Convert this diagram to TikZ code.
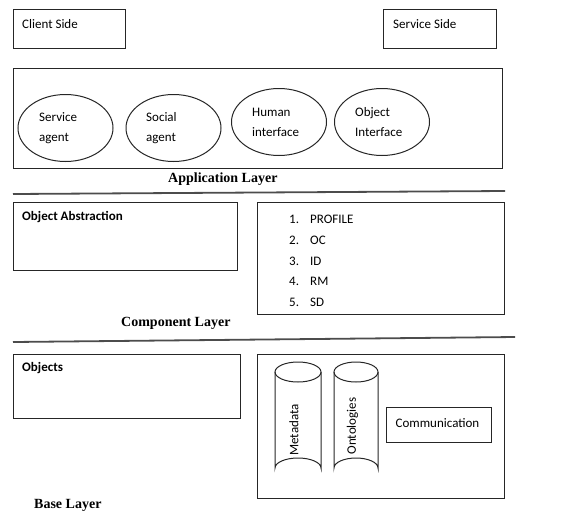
\documentclass[tikz,border=0pt]{standalone}
\usepackage{fontspec}
\setmainfont{Carlito}
\newfontfamily\layerfont{Liberation Serif}
\usetikzlibrary{shapes.geometric}
\begin{document}
\begin{tikzpicture}[x=1pt,y=-1pt,
  box/.style={draw=black!85,line width=1pt,rectangle,anchor=north west,inner sep=0pt},
  oval/.style={draw=black!85,line width=1pt,ellipse,inner sep=0pt,minimum width=95pt,minimum height=67pt},
  txt/.style={inner sep=0pt,anchor=west,font=\fontsize{13}{20}\selectfont,align=left},
  btxt/.style={txt,font=\fontsize{13}{20}\selectfont\bfseries},
  layer/.style={inner sep=0pt,anchor=west,font=\fontsize{14}{16}\selectfont\layerfont\bfseries},
  sep/.style={draw=black!70,line width=1.8pt},
  cyl/.style={draw=black!85,line width=1pt}]
\useasboundingbox (0,0) rectangle (588,517);
% top boxes
\node[box,minimum width=112pt,minimum height=39pt] (client) at (13,9) {};
\node[txt] (clientt) at (22,24) {Client Side};
\node[box,minimum width=113pt,minimum height=39pt] (service) at (383,9) {};
\node[txt] (servicet) at (393,24) {Service Side};
% application layer
\node[box,minimum width=489pt,minimum height=100pt] (app) at (13,68) {};
\node[oval] (e1) at (65.5,128) {};
\node[oval] (e2) at (173.5,128) {};
\node[oval] (e3) at (279,122) {};
\node[oval] (e4) at (382,122) {};
\node[txt] (e1t) at (39,128) {Service\\agent};
\node[txt] (e2t) at (146,128) {Social\\agent};
\node[txt] (e3t) at (252,122) {Human\\interface};
\node[txt] (e4t) at (355,122) {Object\\Interface};
\node[layer] (applab) at (168,179) {Application Layer};
\coordinate (s1a) at (13,194);
\coordinate (s1b) at (505,191);
\draw[sep] (s1a) -- (s1b);
% component layer
\node[box,minimum width=224pt,minimum height=68pt] (oabs) at (13,202) {};
\node[btxt] (oabst) at (22,217) {Object Abstraction};
\node[box,minimum width=247pt,minimum height=112pt] (list) at (257,202) {};
\node[inner sep=0pt,anchor=north west,font=\fontsize{13}{13}\selectfont] (listt) at (289,209) {%
  \def\arraystretch{1.59}%
  \begin{tabular}{@{}p{21pt}@{}l@{}}
  1. & PROFILE\\
  2. & OC\\
  3. & ID\\
  4. & RM\\
  5. & SD
  \end{tabular}};
\node[layer] (complab) at (121,323) {Component Layer};
\coordinate (s2a) at (13,342);
\coordinate (s2b) at (515,337);
\draw[sep] (s2a) -- (s2b);
% base layer
\node[box,minimum width=227pt,minimum height=64pt] (objs) at (13,354) {};
\node[btxt] (objst) at (22,368) {Objects};
\node[box,minimum width=247pt,minimum height=144pt] (base) at (257,354) {};
% cylinders
\draw[cyl] (275,372) -- (275,468) arc[start angle=180,end angle=360,x radius=23,y radius=10] -- (321,372);
\draw[cyl] (298,372) ellipse[x radius=23,y radius=10];
\draw[cyl] (334,372) -- (334,468) arc[start angle=180,end angle=360,x radius=22,y radius=10] -- (378,372);
\draw[cyl] (356,372) ellipse[x radius=22,y radius=10];
\node[inner sep=0pt,rotate=90,font=\fontsize{13}{16}\selectfont] (meta) at (294,430) {Metadata};
\node[inner sep=0pt,rotate=90,font=\fontsize{13}{16}\selectfont] (onto) at (352.5,426) {Ontologies};
\node[box,minimum width=105pt,minimum height=35pt] (comm) at (386,407) {};
\node[inner sep=0pt,font=\fontsize{13}{16}\selectfont] (commt) at (437.5,423) {Communication};
\node[layer] (baselab) at (34,505) {Base Layer};
\end{tikzpicture}
\end{document}
